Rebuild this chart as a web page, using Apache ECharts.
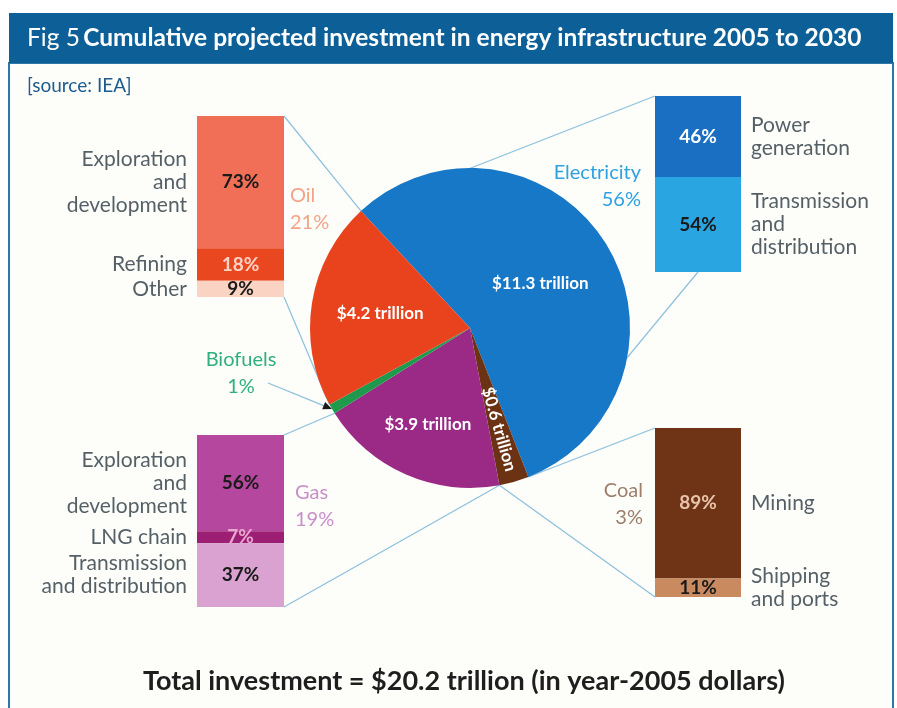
<!DOCTYPE html>
<html>
<head>
<meta charset="utf-8">
<title>Cumulative projected investment in energy infrastructure 2005 to 2030</title>
<script src="https://cdn.jsdelivr.net/npm/echarts@6/dist/echarts.min.js"></script>
<style>
html, body { margin: 0; padding: 0; background: #fff; }
#chart { width: 897px; height: 708px; }
</style>
</head>
<body>
<div id="chart"></div>
<script>
// pie, clockwise from the oil / electricity edge
var sectors = ['Electricity', 'Coal', 'Gas', 'Biofuels', 'Oil'];
var sectorShares = [56, 3, 19, 1, 21];
var sectorTrillions = ['$11.3 trillion', '$0.6 trillion', '$3.9 trillion', '', '$4.2 trillion'];

// breakdown bars (share of each sector, %)
var oilParts = ['Exploration\nand\ndevelopment', 'Refining', 'Other'];
var oilShares = [73, 18, 9];
var gasParts = ['Exploration\nand\ndevelopment', 'LNG chain', 'Transmission\nand distribution'];
var gasShares = [56, 7, 37];
var elecParts = ['Power\ngeneration', 'Transmission\nand\ndistribution'];
var elecShares = [46, 54];
var coalParts = ['Mining', 'Shipping\nand ports'];
var coalShares = [89, 11];

var titleLead = 'Fig 5';
var titleMain = 'Cumulative projected investment in energy infrastructure 2005 to 2030';
var sourceText = '[source: IEA]';
var totalText = 'Total investment = $20.2 trillion (in year-2005 dollars)';

var FONT = 'Lato, "Open Sans", sans-serif';
var PIE = { cx: 470, cy: 328, r: 160, start: 133 };
var sectorColors = ['#1878c8', '#6b3314', '#9a2a85', '#1f9a4c', '#e9431e'];
// where the value label sits along the radius (fraction of r)
var labelRadius = { Electricity: 0.5, Coal: 0.64, Gas: 0.64, Oil: 0.55 };

var groups = [
  { sector: 'Oil', parts: oilParts, shares: oilShares, side: 'left',
    box: { left: 197, top: 116, width: 87, height: 181 },
    colors: ['#f06f56', '#e8471f', '#fbd3c2'], text: ['#1a1a1a', '#fcd2c4', '#1a1a1a'] },
  { sector: 'Gas', parts: gasParts, shares: gasShares, side: 'left',
    box: { left: 197, top: 435, width: 87, height: 172 },
    colors: ['#b5489e', '#9c1f74', '#d9a2d0'], text: ['#1a1a1a', '#e9a6d0', '#1a1a1a'] },
  { sector: 'Electricity', parts: elecParts, shares: elecShares, side: 'right',
    box: { left: 655, top: 96, width: 86, height: 176 },
    colors: ['#1a6fc2', '#29a5e2'], text: ['#ffffff', '#1a1a1a'] },
  { sector: 'Coal', parts: coalParts, shares: coalShares, side: 'right',
    box: { left: 655, top: 428, width: 86, height: 169 },
    colors: ['#6e3415', '#c98a60'], text: ['#e8c4ac', '#1a1a1a'] }
];

// outside sector captions (layout only)
var captions = {
  Electricity: { x: 641, y: 186, align: 'right', color: '#2ea2e0' },
  Oil: { x: 290, y: 209, align: 'left', color: '#f4a386' },
  Biofuels: { x: 241, y: 373, align: 'center', color: '#2fb07e' },
  Gas: { x: 295, y: 506, align: 'left', color: '#c890c8' },
  Coal: { x: 643, y: 504, align: 'right', color: '#9e7e6a' }
};

function cumBefore(name) {
  var s = 0;
  for (var i = 0; i < sectors.length && sectors[i] !== name; i++) s += sectorShares[i];
  return s;
}
function shareOf(name) { return sectorShares[sectors.indexOf(name)]; }
function angleAt(cum) { return (PIE.start - cum * 3.6) * Math.PI / 180; }
function edge(cum) {
  var a = angleAt(cum);
  return [PIE.cx + PIE.r * Math.cos(a), PIE.cy - PIE.r * Math.sin(a)];
}

var grid = [], xAxis = [], yAxis = [], series = [];
groups.forEach(function (g, gi) {
  grid.push({ left: g.box.left, top: g.box.top, width: g.box.width, height: g.box.height });
  xAxis.push({ gridIndex: gi, type: 'category', data: [g.sector], show: false });
  yAxis.push({ gridIndex: gi, type: 'value', min: 0, max: 100, inverse: true, show: false });
  var acc = 0, side = [];
  g.shares.forEach(function (v, k) {
    series.push({
      type: 'bar', xAxisIndex: gi, yAxisIndex: gi, stack: 'g' + gi, barWidth: '100%',
      silent: true, data: [v], itemStyle: { color: g.colors[k] },
      label: { show: true, position: 'inside', formatter: '{c}%', color: g.text[k],
        fontFamily: FONT, fontWeight: 'bold', fontSize: 19 }
    });
    side.push({ name: g.parts[k], value: [0, acc + v / 2] });
    acc += v;
  });
  series.push({
    type: 'scatter', xAxisIndex: gi, yAxisIndex: gi, symbolSize: 0, silent: true, data: side,
    label: { show: true, position: g.side, distance: g.box.width / 2 + 10, formatter: '{b}',
      color: '#2b3841', fontFamily: FONT, fontSize: 21, lineHeight: 23 }
  });
});

series.push({
  type: 'pie', center: [PIE.cx, PIE.cy], radius: PIE.r, startAngle: PIE.start, clockwise: true,
  silent: true, z: 5, avoidLabelOverlap: false,
  data: sectors.map(function (n, i) {
    var item = { name: n, value: sectorShares[i], itemStyle: { color: sectorColors[i] } };
    if (n === 'Coal') item.label = { rotate: 'radial' };
    return item;
  }),
  itemStyle: { borderWidth: 0 },
  label: { show: true, position: 'inside', color: '#fff', fontFamily: FONT, fontWeight: 'bold', fontSize: 17,
    formatter: function (p) { return sectorTrillions[p.dataIndex]; } },
  labelLine: { show: false },
  labelLayout: function (p) {
    var n = sectors[p.dataIndex];
    var f = labelRadius[n];
    if (!f) return {};
    var d = (f - 0.5) * PIE.r;
    // the rotated coal label is shifted in its own (radial) frame
    if (n === 'Coal') return { dx: d, dy: 0 };
    var a = angleAt(cumBefore(n) + shareOf(n) / 2);
    return { dx: d * Math.cos(a), dy: -d * Math.sin(a) };
  }
});

// connector lines from the bars to the slice edges
var lineStyle = { stroke: '#8cc0dc', lineWidth: 1.2 };
var links = [];
groups.forEach(function (g) {
  var b = g.box, c0 = cumBefore(g.sector), c1 = c0 + shareOf(g.sector);
  var xs = g.side === 'left' ? b.left + b.width : b.left;
  var top = [xs, b.top], bottom = [xs, b.top + b.height];
  var pTop, pBottom;
  if (g.sector === 'Oil' || g.sector === 'Gas') { pTop = edge(c1); pBottom = edge(c0); }
  else { pTop = edge(c0); pBottom = edge(c1); }
  if (g.sector === 'Electricity') bottom = [b.left + b.width / 2, b.top + b.height];
  links.push({ type: 'line', z: 1, shape: { x1: top[0], y1: top[1], x2: pTop[0], y2: pTop[1] }, style: lineStyle });
  links.push({ type: 'line', z: 1, shape: { x1: bottom[0], y1: bottom[1], x2: pBottom[0], y2: pBottom[1] }, style: lineStyle });
});

// biofuels pointer
var bioTip = edge(cumBefore('Biofuels') + shareOf('Biofuels') / 2);
var bioFrom = [268, 383];
var ang = Math.atan2(bioTip[1] - bioFrom[1], bioTip[0] - bioFrom[0]);
var ah = 9, aw = 4;
var back = [bioTip[0] - ah * Math.cos(ang), bioTip[1] - ah * Math.sin(ang)];
links.push({ type: 'line', z: 1, shape: { x1: bioFrom[0], y1: bioFrom[1], x2: back[0], y2: back[1] }, style: lineStyle });
links.push({ type: 'polygon', z: 10, shape: { points: [bioTip,
  [back[0] - aw * Math.sin(ang), back[1] + aw * Math.cos(ang)],
  [back[0] + aw * Math.sin(ang), back[1] - aw * Math.cos(ang)]] }, style: { fill: '#1a1a1a' } });

var captionEls = sectors.map(function (n, i) {
  var c = captions[n];
  return { type: 'text', z: 6, x: c.x, y: c.y,
    style: { text: n + '\n' + sectorShares[i] + '%', fill: c.color, font: '20px ' + FONT,
      lineHeight: 27, align: c.align, verticalAlign: 'middle' } };
});

var option = {
  animation: false,
  backgroundColor: '#ffffff',
  grid: grid, xAxis: xAxis, yAxis: yAxis, series: series,
  graphic: [
    { type: 'rect', z: -10, shape: { x: 9, y: 63, width: 884, height: 660 },
      style: { fill: '#fdfdfa', stroke: '#2f77a8', lineWidth: 2 } },
    { type: 'rect', z: -9, shape: { x: 9, y: 13, width: 884, height: 50 }, style: { fill: '#0d5f97' } },
    { type: 'text', z: 2, x: 27, y: 38,
      style: { text: '{n|' + titleLead + '} {b|' + titleMain + '}', verticalAlign: 'middle',
        rich: { n: { fill: '#fff', font: '24.5px ' + FONT }, b: { fill: '#fff', font: 'bold 24.5px ' + FONT } } } },
    { type: 'text', z: 2, x: 27, y: 86,
      style: { text: sourceText, fill: '#1b5b8e', font: '19px ' + FONT, verticalAlign: 'middle' } },
    { type: 'text', z: 2, x: 464, y: 681,
      style: { text: totalText, fill: '#1e1e1e', font: 'bold 27px ' + FONT, align: 'center', verticalAlign: 'middle' } }
  ].concat(links, captionEls)
};

var chart = echarts.init(document.getElementById('chart'));
chart.setOption(option);
</script>
</body>
</html>
